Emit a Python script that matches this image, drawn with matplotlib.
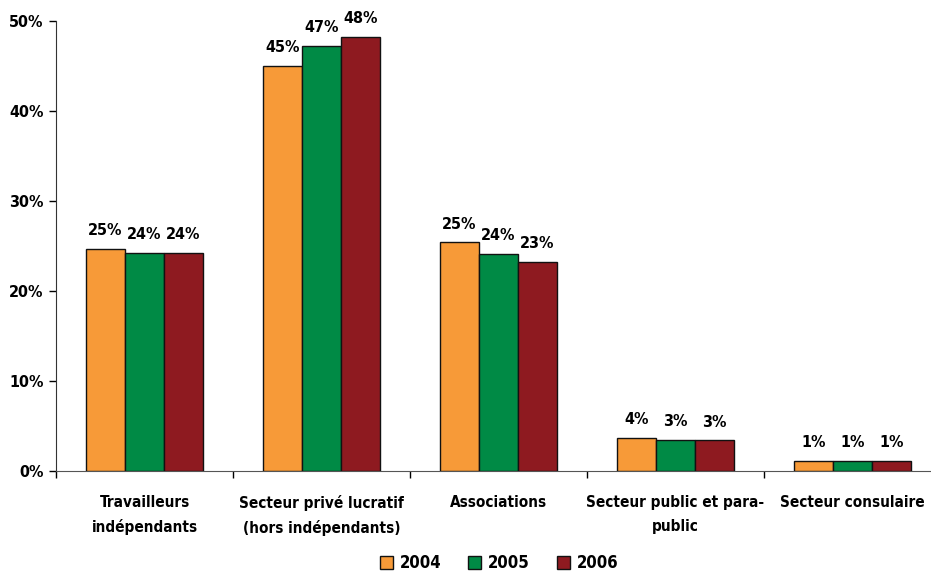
import matplotlib
matplotlib.use("Agg")
import matplotlib.pyplot as plt
import numpy as np

categories = ["Travailleurs\nindépendants", "Secteur privé lucratif\n(hors indépendants)",
              "Associations", "Secteur public et para-\npublic", "Secteur consulaire"]
years = ["2004", "2005", "2006"]
v2004 = [24.7, 45.0, 25.4, 3.7, 1.15]
v2005 = [24.2, 47.2, 24.1, 3.5, 1.07]
v2006 = [24.2, 48.2, 23.2, 3.4, 1.07]
labels2004 = ["25%", "45%", "25%", "4%", "1%"]
labels2005 = ["24%", "47%", "24%", "3%", "1%"]
labels2006 = ["24%", "48%", "23%", "3%", "1%"]
yticks = [0, 10, 20, 30, 40, 50]

colors = ["#F79A38", "#008A45", "#8E1A20"]
plt.rcParams['font.family'] = ['DejaVu Sans']
plt.rcParams['font.stretch'] = 'condensed'
plt.rcParams['font.weight'] = 'bold'

fig = plt.figure(figsize=(9.31, 5.72), dpi=100)
ax = fig.add_axes([56/931, 1-471/572, 885/931, 450/572])

x = np.arange(len(categories))
w = 0.22
series = [v2004, v2005, v2006]
lab = [labels2004, labels2005, labels2006]
for i, (vals, c, yr, ls) in enumerate(zip(series, colors, years, lab)):
    bars = ax.bar(x + (i-1)*w, vals, w, color=c, edgecolor='#111111', linewidth=1, label=yr, zorder=3)
    for b, t in zip(bars, ls):
        ax.annotate(t, (b.get_x()+b.get_width()/2, b.get_height()), xytext=(0, 10),
                    textcoords='offset points', ha='center', va='baseline',
                    fontsize=11.5, fontweight='bold', fontstretch='condensed')

ax.set_xlim(-0.5, len(categories)-0.5)
ax.set_ylim(0, 50)
ax.set_yticks(yticks)
ax.set_yticklabels([f"{t}%" for t in yticks], fontsize=11.5, fontweight='bold', fontstretch='condensed')
ax.set_xticks(x)
ax.set_xticklabels(categories, fontsize=11, fontweight='bold', linespacing=1.75, fontstretch='condensed')
ax.set_xticks(np.arange(len(categories)+1)-0.5, minor=True)
ax.tick_params(axis='x', which='major', length=0, pad=17)
ax.tick_params(axis='x', which='minor', length=5, width=1, direction='out')
ax.tick_params(axis='y', length=5, width=1, direction='out', pad=4)
for s in ['top', 'right']:
    ax.spines[s].set_visible(False)
ax.spines['left'].set_color('#333333')
ax.spines['bottom'].set_color('#555555')

leg = fig.legend(loc='center', bbox_to_anchor=(499/931, 1-563/572), ncol=3, frameon=False,
                 prop={'size': 12, 'weight': 'bold', 'stretch': 'condensed'},
                 handlelength=0.8, handleheight=0.8,
                 handletextpad=0.4, columnspacing=1.6)

fig.savefig("out.png", dpi=100)
